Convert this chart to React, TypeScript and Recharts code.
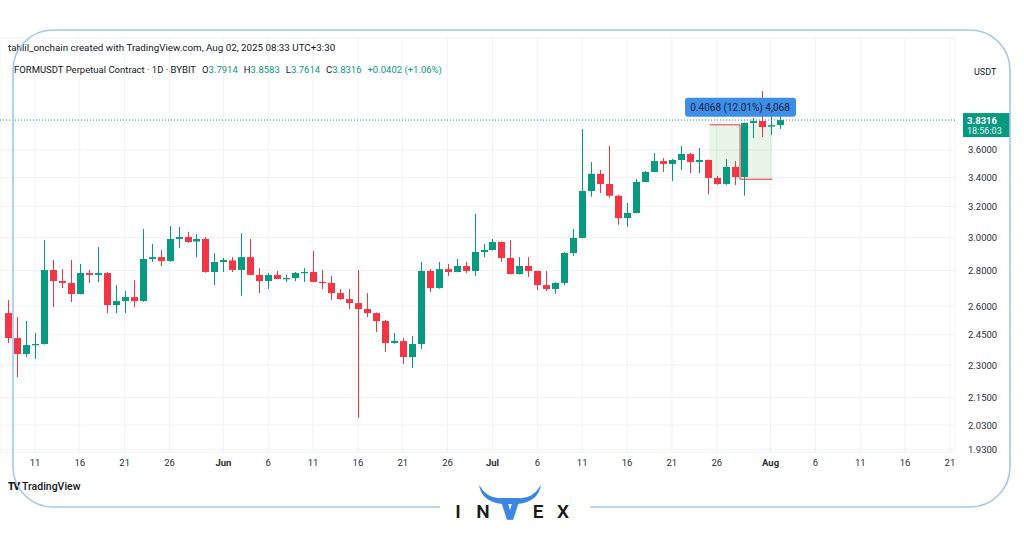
import React from 'react';
import {
  ComposedChart,
  Bar,
  XAxis,
  YAxis,
  CartesianGrid,
  ReferenceLine,
  ReferenceArea,
  ReferenceDot,
} from 'recharts';

// ---- data (daily candles, FORMUSDT, May 8 -> Aug 2 2025) ----
const firstDayOffset = -3; // May 8 relative to May 11 (day 0)

const opens = [
  2.563, 2.433, 2.354, 2.398, 2.403, 2.804, 2.740, 2.729, 2.667, 2.786,
  2.775, 2.786, 2.606, 2.628, 2.650, 2.628, 2.869, 2.880, 2.857, 2.991,
  3.003, 2.975, 2.991, 2.792, 2.851, 2.860, 2.804, 2.880, 2.775, 2.740,
  2.775, 2.752, 2.757, 2.786, 2.792, 2.735, 2.729, 2.672, 2.639, 2.617,
  2.585, 2.563, 2.521, 2.408, 2.418, 2.339, 2.403, 2.798, 2.700, 2.809,
  2.792, 2.827, 2.798, 2.911, 2.923, 2.972, 2.875, 2.780, 2.827, 2.798,
  2.717, 2.695, 2.729, 2.905, 2.997, 3.305, 3.426, 3.354, 3.273, 3.124,
  3.157, 3.368, 3.439, 3.518, 3.497, 3.526, 3.570, 3.511, 3.526, 3.396,
  3.354, 3.475, 3.403, 3.808, 3.824, 3.780, 3.7914,
];
const highs = [
  2.634, 2.542, 2.521, 2.459, 2.985, 2.863, 2.809, 2.863, 2.839, 2.804,
  2.941, 2.792, 2.717, 2.684, 2.746, 3.054, 2.960, 2.923, 3.073, 3.066,
  3.035, 3.022, 3.003, 2.905, 2.875, 2.880, 3.028, 2.991, 2.815, 2.786,
  2.798, 2.775, 2.792, 2.815, 2.917, 2.804, 2.769, 2.695, 2.695, 2.804,
  2.672, 2.566, 2.526, 2.459, 2.433, 2.444, 2.851, 2.809, 2.851, 2.839,
  2.869, 2.851, 3.151, 2.960, 2.991, 2.975, 2.985, 2.880, 2.880, 2.800,
  2.798, 2.733, 2.911, 3.054, 3.761, 3.511, 3.453, 3.630, 3.280, 3.224,
  3.389, 3.446, 3.578, 3.540, 3.533, 3.630, 3.578, 3.615, 3.530, 3.410,
  3.533, 3.518, 3.812, 3.848, 4.070, 3.890, 3.8583,
];
const lows = [
  2.408, 2.243, 2.339, 2.329, 2.400, 2.595, 2.700, 2.623, 2.664, 2.729,
  2.734, 2.563, 2.563, 2.563, 2.595, 2.624, 2.851, 2.827, 2.852, 2.935,
  2.966, 2.880, 2.788, 2.717, 2.792, 2.792, 2.656, 2.773, 2.672, 2.695,
  2.750, 2.735, 2.740, 2.735, 2.733, 2.695, 2.634, 2.634, 2.585, 2.060,
  2.542, 2.464, 2.363, 2.405, 2.305, 2.286, 2.378, 2.678, 2.697, 2.769,
  2.790, 2.786, 2.769, 2.880, 2.920, 2.851, 2.778, 2.778, 2.763, 2.689,
  2.683, 2.667, 2.717, 2.887, 2.994, 3.266, 3.292, 3.259, 3.081, 3.067,
  3.155, 3.366, 3.436, 3.439, 3.375, 3.453, 3.431, 3.431, 3.283, 3.347,
  3.347, 3.347, 3.273, 3.690, 3.698, 3.714, 3.7614,
];
const closes = [
  2.433, 2.354, 2.398, 2.403, 2.804, 2.740, 2.729, 2.667, 2.786, 2.775,
  2.786, 2.606, 2.628, 2.650, 2.628, 2.869, 2.880, 2.857, 2.991, 3.003,
  2.972, 2.991, 2.792, 2.851, 2.863, 2.804, 2.880, 2.775, 2.740, 2.775,
  2.752, 2.757, 2.786, 2.792, 2.735, 2.729, 2.672, 2.639, 2.617, 2.585,
  2.563, 2.521, 2.408, 2.418, 2.339, 2.403, 2.798, 2.700, 2.809, 2.792,
  2.827, 2.798, 2.911, 2.923, 2.972, 2.875, 2.780, 2.827, 2.798, 2.717,
  2.695, 2.729, 2.905, 2.997, 3.305, 3.426, 3.354, 3.273, 3.124, 3.157,
  3.368, 3.439, 3.518, 3.497, 3.526, 3.570, 3.511, 3.526, 3.396, 3.354,
  3.475, 3.403, 3.808, 3.824, 3.776, 3.7914, 3.8316,
];

// x ticks: day offsets from May 11 and their labels
const xTickDays = [0, 5, 10, 15, 21, 26, 31, 36, 41, 46, 51, 56, 61, 66, 71, 76, 82, 87, 92, 97, 102];
const xTickLabels = ['11', '16', '21', '26', 'Jun', '6', '11', '16', '21', '26', 'Jul', '6', '11', '16', '21', '26', 'Aug', '6', '11', '16', '21'];

const yTicks = [1.93, 2.03, 2.15, 2.3, 2.45, 2.6, 2.8, 3.0, 3.2, 3.4, 3.6];

const lastPrice = 3.8316;
const rangeLow = 3.387;
const rangeHigh = 3.7938;
const rangeStartDay = 75.2;
const rangeMidDay = 78.6;
const rangeEndDay = 82.2;

const data = opens.map((o, i) => ({
  d: firstDayOffset + i,
  o,
  h: highs[i],
  l: lows[i],
  c: closes[i],
}));

const GREEN = '#089981';
const RED = '#f23645';
const FONT = 'Roboto, "Noto Sans", sans-serif';

const Candle = (props: any) => {
  const { x, y, width, height, payload } = props;
  if (x == null || y == null) return null;
  const { o, h, l, c } = payload;
  const up = c >= o;
  const color = up ? GREEN : RED;
  const yTop = Math.min(y, y + height);
  const hgt = Math.abs(height);
  const lh = Math.log(h);
  const ll = Math.log(l);
  const toY = (p: number) => (lh === ll ? yTop : yTop + (hgt * (lh - Math.log(p))) / (lh - ll));
  const cx = Math.round(x + width / 2) + 0.5;
  const bTop = toY(Math.max(o, c));
  const bBot = toY(Math.min(o, c));
  return (
    <g>
      <line x1={cx} x2={cx} y1={yTop} y2={yTop + hgt} stroke={color} strokeWidth={1} />
      <rect x={cx - width / 2} y={bTop} width={width} height={Math.max(1.2, bBot - bTop)} fill={color} />
    </g>
  );
};

const XTick = (props: any) => {
  const { x, y, payload } = props;
  const i = xTickDays.indexOf(payload.value);
  const label = i >= 0 ? xTickLabels[i] : '';
  const isMonth = isNaN(Number(label));
  return (
    <text x={x} y={y} dy={8} textAnchor="middle" fontSize={9.5} fontFamily={FONT} fontWeight={isMonth ? 700 : 400} fill="#2a2e39">
      {label}
    </text>
  );
};

const YTick = (props: any) => {
  const { x, y, payload } = props;
  return (
    <text x={x} y={y} dy={3.5} textAnchor="start" fontSize={9.5} fontFamily={FONT} fill="#2a2e39">
      {Number(payload.value).toFixed(4)}
    </text>
  );
};

const PriceTag = (p: any) => {
  const vb = p.viewBox || {};
  const x0 = (vb.x || 0) + (vb.width || 0) + 8;
  const yc = vb.y || 0;
  return (
    <g>
      <rect x={x0} y={yc - 7} width={47} height={24} fill={GREEN} />
      <text x={x0 + 4} y={yc + 4} fontSize={9.5} fontWeight={700} fontFamily={FONT} fill="#ffffff">
        {lastPrice.toFixed(4)}
      </text>
      <text x={x0 + 4} y={yc + 14} fontSize={9} fontFamily={FONT} fill="#e6f5f1">
        18:56:03
      </text>
    </g>
  );
};

const RangeLabel = (p: any) => {
  const { cx, cy } = p;
  if (cx == null || cy == null) return null;
  return (
    <g>
      <rect x={cx - 55} y={cy - 27} width={111} height={19} rx={3} fill="#3d8ee8" />
      <text x={cx} y={cy - 14} textAnchor="middle" fontSize={10} fontFamily={FONT} fill="#10213f">
        0.4068 (12.01%) 4,068
      </text>
    </g>
  );
};

export default function App() {
  return (
    <div style={{ position: 'fixed', left: 0, top: 0, width: 1024, height: 538, background: '#ffffff', overflow: 'hidden', fontFamily: FONT }}>
      <ComposedChart width={1024} height={538} data={data} margin={{ top: 38, right: 0, bottom: 66, left: 0 }}>
        <CartesianGrid stroke="#f0f2f5" strokeWidth={1} />
        <XAxis
          dataKey="d"
          type="number"
          domain={[-3.902, 102.564]}
          ticks={xTickDays}
          allowDataOverflow
          axisLine={false}
          tickLine={false}
          tickSize={0}
          tickMargin={6}
          height={20}
          tick={<XTick />}
          interval={0}
        />
        <YAxis
          orientation="right"
          scale="log"
          type="number"
          domain={[1.919, 4.546]}
          ticks={yTicks}
          allowDataOverflow
          axisLine={false}
          tickLine={false}
          tickSize={0}
          tickMargin={13}
          width={69}
          tick={<YTick />}
          interval={0}
        />
        <ReferenceArea
          x1={rangeStartDay}
          x2={rangeEndDay}
          y1={rangeLow}
          y2={rangeHigh}
          fill="#4caf50"
          fillOpacity={0.13}
          stroke="none"
        />
        <ReferenceLine
          segment={[{ x: rangeMidDay, y: rangeLow }, { x: rangeMidDay, y: rangeHigh }]}
          stroke={RED}
          strokeWidth={1}
        />
        <Bar
          dataKey={(e: any) => [e.l, e.h]}
          barSize={7}
          shape={<Candle />}
          isAnimationActive={false}
        />
        <ReferenceLine
          segment={[{ x: rangeStartDay, y: rangeHigh }, { x: rangeMidDay, y: rangeHigh }]}
          stroke={RED}
          strokeWidth={1}
        />
        <ReferenceLine
          segment={[{ x: rangeMidDay, y: rangeLow }, { x: rangeEndDay, y: rangeLow }]}
          stroke={RED}
          strokeWidth={1}
        />
        <ReferenceLine y={lastPrice} stroke={GREEN} strokeDasharray="1 2" strokeWidth={1} label={PriceTag} />
        <ReferenceDot x={rangeMidDay} y={rangeHigh} r={0} shape={<RangeLabel />} ifOverflow="visible" />
      </ComposedChart>

      {/* header */}
      <div style={{ position: 'absolute', left: 8, top: 42, fontSize: 9.8, lineHeight: '12px', color: '#131722', whiteSpace: 'nowrap' }}>
        tahlil_onchain created with TradingView.com, Aug 02, 2025 08:33 UTC+3:30
      </div>
      <div style={{ position: 'absolute', left: 14, top: 64, fontSize: 9.5, lineHeight: '12px', color: '#131722', whiteSpace: 'nowrap' }}>
        <span>FORMUSDT Perpetual Contract · 1D · BYBIT</span>
        <span style={{ marginLeft: 6 }}>O</span><span style={{ color: GREEN }}>3.7914</span>
        <span style={{ marginLeft: 6 }}>H</span><span style={{ color: GREEN }}>3.8583</span>
        <span style={{ marginLeft: 6 }}>L</span><span style={{ color: GREEN }}>3.7614</span>
        <span style={{ marginLeft: 6 }}>C</span><span style={{ color: GREEN }}>3.8316</span>
        <span style={{ marginLeft: 6, color: GREEN }}>+0.0402 (+1.06%)</span>
      </div>
      <div style={{ position: 'absolute', left: 974, top: 66, fontSize: 9, lineHeight: '12px', color: '#131722' }}>USDT</div>

      {/* TradingView mark */}
      <div style={{ position: 'absolute', left: 8, top: 481, fontSize: 10.5, lineHeight: '12px', color: '#131722', whiteSpace: 'nowrap' }}>
        <span style={{ fontWeight: 900, fontSize: 10, letterSpacing: -1 }}>TV</span>
        <span style={{ marginLeft: 3, fontWeight: 500 }}>TradingView</span>
      </div>

      {/* frame + logo */}
      <svg width={1024} height={538} style={{ position: 'absolute', left: 0, top: 0, pointerEvents: 'none' }}>
        <path
          d="M 440 507 L 53 507 A 40 40 0 0 1 13 467 L 13 70 A 40 40 0 0 1 53 30 L 970 30 A 40 40 0 0 1 1010 70 L 1010 467 A 40 40 0 0 1 970 507 L 590 507"
          fill="none"
          stroke="#a3c7ef"
          strokeWidth={1.6}
        />
        <path
          d="M 479 485 Q 488 500 503 498 L 517 498 Q 532 500 541 485 Q 538 502 518 504 L 502 504 Q 482 502 479 485 Z"
          fill="#3b86e3"
        />
        <text x={458} y={518} textAnchor="middle" fontSize={19} fontWeight={600} fontFamily={FONT} fill="#1a1a1a">I</text>
        <text x={483} y={518} textAnchor="middle" fontSize={19} fontWeight={600} fontFamily={FONT} fill="#1a1a1a">N</text>
        <text x={510} y={519} textAnchor="middle" fontSize={27} fontWeight={900} fontFamily={FONT} fill="#3b86e3" stroke="#3b86e3" strokeWidth={1.5}>V</text>
        <text x={538} y={518} textAnchor="middle" fontSize={19} fontWeight={600} fontFamily={FONT} fill="#1a1a1a">E</text>
        <text x={563} y={518} textAnchor="middle" fontSize={19} fontWeight={600} fontFamily={FONT} fill="#1a1a1a">X</text>
      </svg>
    </div>
  );
}
